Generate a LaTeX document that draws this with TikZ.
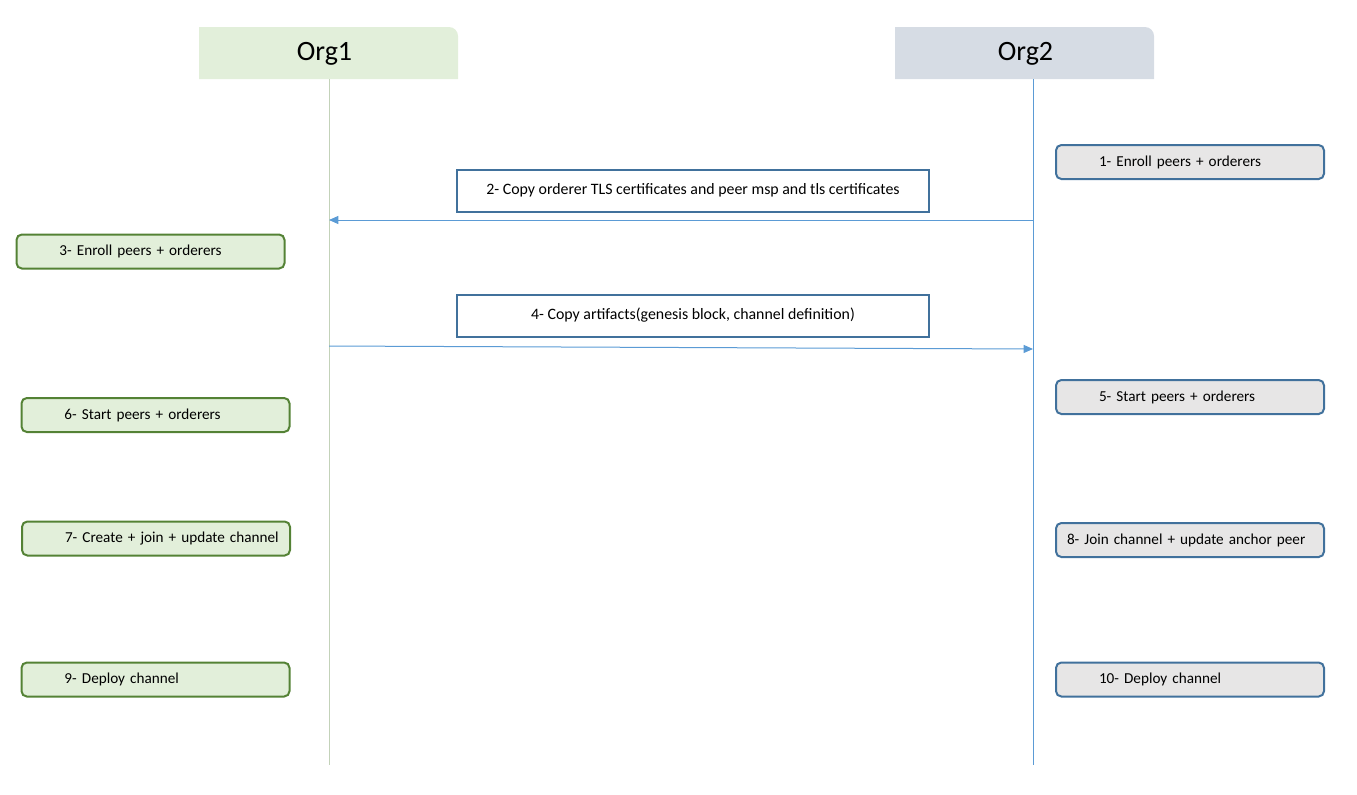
\documentclass[tikz,border=0pt]{standalone}
\usepackage{fontspec}
\setmainfont{Carlito}
\usetikzlibrary{arrows.meta}

\definecolor{orgonefill}{HTML}{E2EFDA}
\definecolor{orgoneline}{HTML}{548235}
\definecolor{orgonelife}{HTML}{C3D2B9}
\definecolor{orgtwohead}{HTML}{D6DCE4}
\definecolor{orgtwofill}{HTML}{E7E6E6}
\definecolor{orgtwoline}{HTML}{41719C}
\definecolor{msgline}{HTML}{5B9BD5}

\tikzset{
  stepbox/.style={line width=1.5pt, rounded corners=4pt, minimum width=201pt, minimum height=25.5pt,
    inner xsep=8.25pt, text width=184.5pt, align=left, font=\fontsize{11.4}{13}\selectfont},
  orgone box/.style={stepbox, draw=orgoneline, fill=orgonefill},
  orgtwo box/.style={stepbox, draw=orgtwoline, fill=orgtwofill},
  msg box/.style={draw=orgtwoline, fill=white, line width=1.5pt, minimum width=354pt, minimum height=31.5pt,
    font=\fontsize{11.9}{14}\selectfont},
  msg arrow/.style={draw=msgline, line width=0.75pt, -{Triangle[length=7pt,width=6pt]}},
  head text/.style={font=\fontsize{21}{25}\selectfont, inner sep=0pt}
}
\newcommand{\indentstep}{\hspace*{24pt}}

\begin{document}
\begin{tikzpicture}[x=0.75pt,y=0.75pt,yscale=-1,xscale=1]
\useasboundingbox (0,0) rectangle (1357,794);

%Shape: Org1 header
\fill [orgonefill] (199,79) -- (199,27) -- (449,27) .. controls (454,27) and (458,31) .. (458,36) -- (458,79) -- cycle ;
%Shape: Org2 header
\fill [orgtwohead] (895,79) -- (895,27) -- (1145,27) .. controls (1150,27) and (1154,31) .. (1154,36) -- (1154,79) -- cycle ;

% Text Node
\node [head text] (org1) at (324.5,54) {Org1};
% Text Node
\node [head text] (org2) at (1025.5,54) {Org2};

%Straight Lines: lifelines
\coordinate (org1 top) at (329,79);
\coordinate (org1 end) at (329,765);
\coordinate (org2 top) at (1033,79);
\coordinate (org2 end) at (1033,765);
\draw [orgonelife, line width=0.75pt] (org1 top) -- (org1 end) ;
\draw [msgline, line width=0.75pt] (org2 top) -- (org2 end) ;

%Shape: Org2 steps
\node [orgtwo box] (step1) at (1190,162) {\indentstep 1- Enroll peers + orderers};
\node [orgtwo box] (step5) at (1190,397) {\indentstep 5- Start peers + orderers};
\node [orgtwo box] (step8) at (1190,540) {8- Join channel + update anchor peer};
\node [orgtwo box] (step10) at (1190,679.5) {\indentstep 10- Deploy channel};

%Shape: Org1 steps
\node [orgone box] (step3) at (150.5,251.5) {\indentstep 3- Enroll peers + orderers};
\node [orgone box] (step6) at (155.5,415) {\indentstep 6- Start peers + orderers};
\node [orgone box] (step7) at (156,538.5) {\indentstep 7- Create + join + update channel};
\node [orgone box] (step9) at (155.5,679.5) {\indentstep 9- Deploy channel};

%Shape: messages
\node [msg box] (step2) at (693,190.5) {2- Copy orderer TLS certificates and peer msp and tls certificates};
\node [msg box] (step4) at (693,315.5) {4- Copy artifacts(genesis block, channel definition)};

%Straight Lines: arrows
\coordinate (certs from) at (1033,220);
\coordinate (certs to) at (329,220);
\coordinate (artifacts from) at (329,346);
\coordinate (artifacts to) at (1033,349);
\draw [msg arrow] (certs from) -- (certs to) ;
\draw [msg arrow] (artifacts from) -- (artifacts to) ;

\end{tikzpicture}
\end{document}
